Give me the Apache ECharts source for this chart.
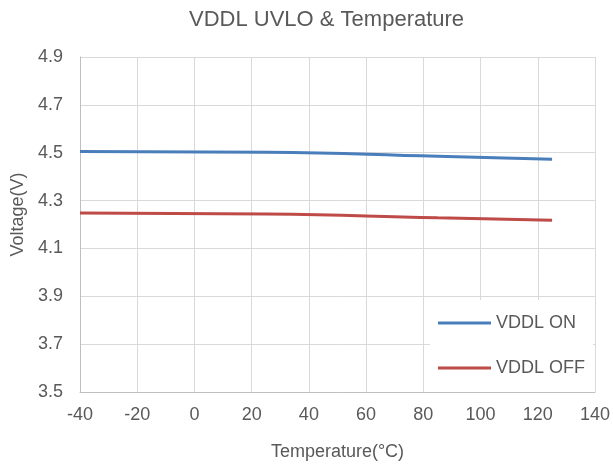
<!DOCTYPE html>
<html><head><meta charset="utf-8">
<script src="https://cdn.jsdelivr.net/npm/echarts@6/dist/echarts.min.js"></script>
<style>html,body{margin:0;padding:0;background:#fff}#c{width:613px;height:468px}</style>
</head><body><div id="c"></div>
<script>
const temps = [-40, 25, 85, 125];
const vddlOn = [4.505, 4.502, 4.485, 4.473];
const vddlOff = [4.248, 4.244, 4.228, 4.218];
const seriesNames = ['VDDL ON', 'VDDL OFF'];
const xTicks = {min: -40, max: 140, interval: 20};
const yTicks = {min: 3.5, max: 4.9, interval: 0.2};

const font = 'Liberation Sans, Arial, sans-serif';
const txt = '#595959';
const chart = echarts.init(document.getElementById('c'));
chart.setOption({
  animation: false,
  title: {text: 'VDDL UVLO & Temperature', left: 189, top: 9, padding: 0,
    textStyle: {fontFamily: font, fontSize: 22, fontWeight: 'normal', color: txt}},
  grid: {left: 80, right: 17, top: 57, bottom: 76, containLabel: false},
  legend: {
    orient: 'vertical', left: 430, top: 300,
    data: seriesNames.map(n => ({name: n, icon: 'rect'})),
    itemWidth: 53, itemHeight: 3, itemGap: 27,
    padding: [14, 8, 15, 8],
    backgroundColor: '#fff', borderWidth: 0,
    textStyle: {fontFamily: font, fontSize: 18, color: txt}
  },
  xAxis: {
    type: 'value', min: xTicks.min, max: xTicks.max, interval: xTicks.interval,
    name: 'Temperature(\u00B0C)', nameLocation: 'middle', nameGap: 51,
    nameTextStyle: {fontFamily: font, fontSize: 18, color: txt},
    axisLine: {show: true, onZero: false, lineStyle: {color: '#bfbfbf', width: 1}},
    axisTick: {show: false},
    axisLabel: {fontFamily: font, fontSize: 18, color: txt, margin: 14},
    splitLine: {show: true, lineStyle: {color: '#d9d9d9', width: 1}}
  },
  yAxis: {
    type: 'value', min: yTicks.min, max: yTicks.max, interval: yTicks.interval,
    name: 'Voltage(V)', nameLocation: 'middle', nameGap: 52, nameRotate: 90,
    nameTextStyle: {fontFamily: font, fontSize: 18, color: txt, padding: [0, 0, 0, 20]},
    axisLine: {show: true, onZero: false, lineStyle: {color: '#bfbfbf', width: 1}},
    axisTick: {show: false},
    axisLabel: {fontFamily: font, fontSize: 18, color: txt, margin: 17,
      formatter: v => v.toFixed(1)},
    splitLine: {show: true, lineStyle: {color: '#d9d9d9', width: 1}}
  },
  series: [
    {name: seriesNames[0], type: 'line', smooth: true, showSymbol: false,
     data: temps.map((t, i) => [t, vddlOn[i]]),
     itemStyle: {color: '#4a7ebb'}, lineStyle: {color: '#4a7ebb', width: 3}},
    {name: seriesNames[1], type: 'line', smooth: true, showSymbol: false,
     data: temps.map((t, i) => [t, vddlOff[i]]),
     itemStyle: {color: '#be4b48'}, lineStyle: {color: '#be4b48', width: 3}}
  ]
});
</script></body></html>
